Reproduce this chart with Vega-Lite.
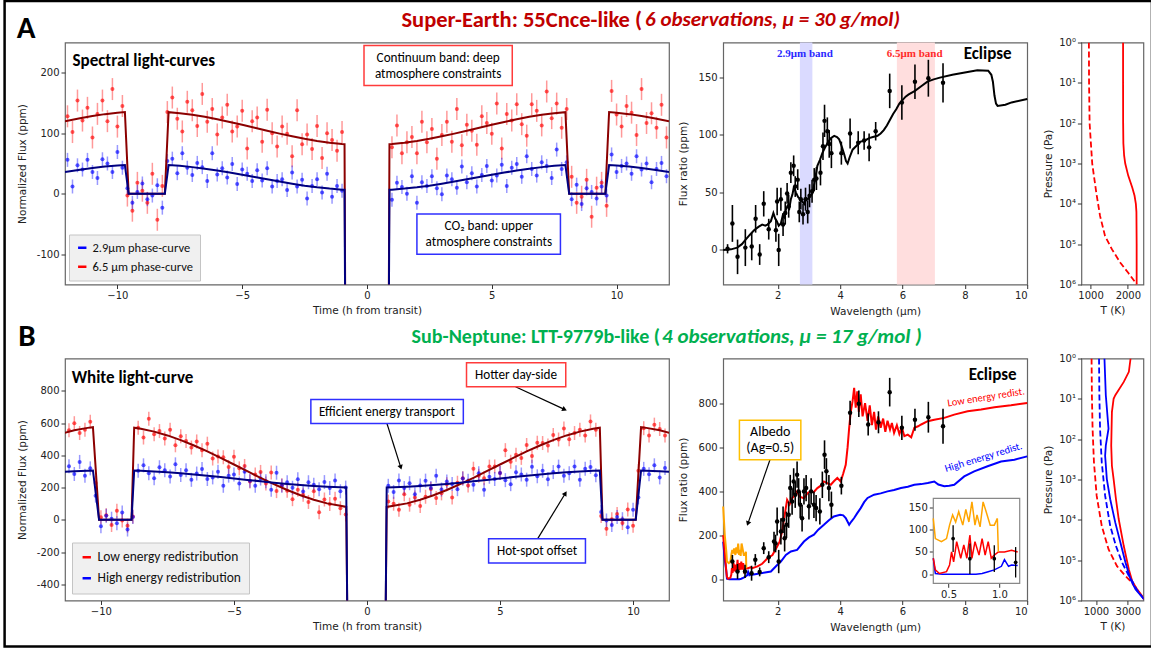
{
"$schema": "https://vega.github.io/schema/vega-lite/v6.json",
"autosize": {"type": "none"},
"padding": {"left": 65, "top": 42.5, "right": 1086, "bottom": 606.5},
"background": "white",
"columns": 3,
"spacing": {"row": 74, "column": 54.2},
"bounds": "flush",
"align": "each",
"resolve": {"scale": {"color": "independent"}, "legend": {"color": "independent"}},
"datasets": {
"lcA": [{"t":-12,"r":128,"b":56},{"t":-11.8,"r":102,"b":12},{"t":-11.6,"r":154,"b":47},{"t":-11.4,"r":121,"b":40},{"t":-11.2,"r":142,"b":56},{"t":-11,"r":93,"b":36},{"t":-10.8,"r":132,"b":26},{"t":-10.6,"r":154,"b":57},{"t":-10.4,"r":120,"b":50},{"t":-10.2,"r":173,"b":36},{"t":-10,"r":111,"b":69},{"t":-9.8,"r":145,"b":43},{"t":-9.6,"r":-3,"b":9},{"t":-9.4,"r":-28,"b":-15},{"t":-9.2,"r":18,"b":3},{"t":-9,"r":5,"b":17},{"t":-8.8,"r":-15,"b":-9},{"t":-8.6,"r":33,"b":-3},{"t":-8.4,"r":-43,"b":14},{"t":-8.2,"r":13,"b":-23},{"t":-8,"r":135,"b":54},{"t":-7.8,"r":159,"b":58},{"t":-7.6,"r":124,"b":34},{"t":-7.4,"r":103,"b":67},{"t":-7.2,"r":152,"b":43},{"t":-7,"r":138,"b":31},{"t":-6.8,"r":112,"b":51},{"t":-6.6,"r":165,"b":44},{"t":-6.4,"r":119,"b":21},{"t":-6.2,"r":140,"b":67},{"t":-6,"r":98,"b":32},{"t":-5.8,"r":126,"b":42},{"t":-5.6,"r":147,"b":27},{"t":-5.4,"r":103,"b":49},{"t":-5.2,"r":111,"b":16},{"t":-5,"r":137,"b":40},{"t":-4.8,"r":75,"b":33},{"t":-4.6,"r":120,"b":21},{"t":-4.4,"r":126,"b":39},{"t":-4.2,"r":86,"b":22},{"t":-4,"r":139,"b":42},{"t":-3.8,"r":100,"b":12},{"t":-3.6,"r":78,"b":21},{"t":-3.4,"r":111,"b":24},{"t":-3.2,"r":99,"b":6},{"t":-3,"r":62,"b":35},{"t":-2.8,"r":138,"b":12},{"t":-2.6,"r":82,"b":23},{"t":-2.4,"r":98,"b":-8},{"t":-2.2,"r":74,"b":13},{"t":-2,"r":112,"b":24},{"t":-1.8,"r":59,"b":2},{"t":-1.6,"r":100,"b":33},{"t":-1.4,"r":89,"b":-5},{"t":-1.2,"r":71,"b":13},{"t":-1,"r":102,"b":5},{"t":1,"r":77,"b":-10},{"t":1.2,"r":113,"b":18},{"t":1.4,"r":67,"b":11},{"t":1.6,"r":85,"b":0},{"t":1.8,"r":94,"b":29},{"t":2,"r":67,"b":-15},{"t":2.2,"r":119,"b":19},{"t":2.4,"r":85,"b":13},{"t":2.6,"r":107,"b":29},{"t":2.8,"r":58,"b":9},{"t":3,"r":97,"b":-1},{"t":3.2,"r":119,"b":30},{"t":3.4,"r":86,"b":24},{"t":3.6,"r":140,"b":10},{"t":3.8,"r":80,"b":45},{"t":4,"r":114,"b":19},{"t":4.2,"r":104,"b":34},{"t":4.4,"r":81,"b":12},{"t":4.6,"r":128,"b":31},{"t":4.8,"r":117,"b":46},{"t":5,"r":99,"b":22},{"t":5.2,"r":149,"b":30},{"t":5.4,"r":75,"b":48},{"t":5.6,"r":132,"b":13},{"t":5.8,"r":121,"b":43},{"t":6,"r":148,"b":49},{"t":6.2,"r":115,"b":28},{"t":6.4,"r":96,"b":62},{"t":6.6,"r":148,"b":41},{"t":6.8,"r":137,"b":30},{"t":7,"r":113,"b":52},{"t":7.2,"r":169,"b":46},{"t":7.4,"r":125,"b":26},{"t":7.6,"r":149,"b":73},{"t":7.8,"r":109,"b":41},{"t":8,"r":140,"b":52},{"t":8.2,"r":28,"b":-9},{"t":8.4,"r":-15,"b":15},{"t":8.6,"r":-5,"b":-17},{"t":8.8,"r":23,"b":9},{"t":9,"r":-38,"b":3},{"t":9.2,"r":10,"b":-8},{"t":9.4,"r":18,"b":12},{"t":9.6,"r":-20,"b":-3},{"t":9.8,"r":170,"b":65},{"t":10,"r":131,"b":36},{"t":10.2,"r":111,"b":46},{"t":10.4,"r":145,"b":50},{"t":10.6,"r":134,"b":33},{"t":10.8,"r":97,"b":62},{"t":11,"r":173,"b":40},{"t":11.2,"r":117,"b":50},{"t":11.4,"r":133,"b":19},{"t":11.6,"r":109,"b":41},{"t":11.8,"r":147,"b":51},{"t":12,"r":93,"b":29}],
"lcAm": [{"t":-12.1,"r":119.7,"b":35.8},{"t":-11.5,"r":124.8,"b":39.7},{"t":-11,"r":128.4,"b":42.5},{"t":-10.5,"r":131.6,"b":44.9},{"t":-10,"r":133.9,"b":46.7},{"t":-9.7,"r":135,"b":47.5},{"t":-9.55,"r":0,"b":0},{"t":-8.1,"r":0,"b":0},{"t":-7.95,"r":134.8,"b":47.4},{"t":-7.5,"r":133.1,"b":46.1},{"t":-7,"r":130.4,"b":44},{"t":-6.5,"r":127.1,"b":41.4},{"t":-6,"r":123.2,"b":38.4},{"t":-5.5,"r":118.7,"b":35},{"t":-5,"r":114,"b":31.4},{"t":-4.5,"r":109.1,"b":27.6},{"t":-4,"r":104.2,"b":23.8},{"t":-3.5,"r":99.4,"b":20.1},{"t":-3,"r":95,"b":16.6},{"t":-2.5,"r":90.8,"b":13.4},{"t":-2,"r":87.3,"b":10.7},{"t":-1.5,"r":84.4,"b":8.5},{"t":-1,"r":82.3,"b":6.8},{"t":-0.9,"r":82,"b":6.6},{"t":-0.85,"r":-400,"b":-400},{"t":0.85,"r":-400,"b":-400},{"t":0.9,"r":82,"b":6.6},{"t":1,"r":82.3,"b":6.8},{"t":1.5,"r":84.4,"b":8.5},{"t":2,"r":87.3,"b":10.7},{"t":2.5,"r":90.8,"b":13.4},{"t":3,"r":95,"b":16.6},{"t":3.5,"r":99.4,"b":20.1},{"t":4,"r":104.2,"b":23.8},{"t":4.5,"r":109.1,"b":27.6},{"t":5,"r":114,"b":31.4},{"t":5.5,"r":118.7,"b":35},{"t":6,"r":123.2,"b":38.4},{"t":6.5,"r":127.1,"b":41.4},{"t":7,"r":130.4,"b":44},{"t":7.5,"r":133.1,"b":46.1},{"t":7.95,"r":134.8,"b":47.4},{"t":8.1,"r":0,"b":0},{"t":9.55,"r":0,"b":0},{"t":9.7,"r":135,"b":47.5},{"t":10,"r":133.9,"b":46.7},{"t":10.5,"r":131.6,"b":44.9},{"t":11,"r":128.4,"b":42.5},{"t":11.5,"r":124.8,"b":39.7},{"t":12.1,"r":119.7,"b":35.8}],
"lcB": [{"t":-11.2,"r":555,"b":332},{"t":-11,"r":599,"b":284},{"t":-10.8,"r":538,"b":359},{"t":-10.6,"r":559,"b":273},{"t":-10.4,"r":608,"b":319},{"t":-10.2,"r":228,"b":150},{"t":-10,"r":16,"b":-39},{"t":-9.8,"r":28,"b":25},{"t":-9.6,"r":-32,"b":7},{"t":-9.4,"r":56,"b":-21},{"t":-9.2,"r":-4,"b":46},{"t":-9,"r":-36,"b":-60},{"t":-8.8,"r":20,"b":18},{"t":-8.6,"r":571,"b":304},{"t":-8.4,"r":510,"b":338},{"t":-8.2,"r":627,"b":288},{"t":-8,"r":531,"b":258},{"t":-7.8,"r":550,"b":326},{"t":-7.6,"r":504,"b":307},{"t":-7.4,"r":558,"b":269},{"t":-7.2,"r":462,"b":344},{"t":-7,"r":518,"b":278},{"t":-6.8,"r":489,"b":307},{"t":-6.6,"r":448,"b":248},{"t":-6.4,"r":486,"b":287},{"t":-6.2,"r":431,"b":315},{"t":-6,"r":472,"b":253},{"t":-5.8,"r":380,"b":263},{"t":-5.6,"r":392,"b":298},{"t":-5.4,"r":388,"b":211},{"t":-5.2,"r":328,"b":274},{"t":-5,"r":391,"b":281},{"t":-4.8,"r":319,"b":225},{"t":-4.6,"r":334,"b":298},{"t":-4.4,"r":237,"b":242},{"t":-4.2,"r":281,"b":211},{"t":-4,"r":297,"b":256},{"t":-3.8,"r":225,"b":239},{"t":-3.6,"r":293,"b":186},{"t":-3.4,"r":178,"b":292},{"t":-3.2,"r":215,"b":212},{"t":-3,"r":181,"b":233},{"t":-2.8,"r":128,"b":199},{"t":-2.6,"r":187,"b":252},{"t":-2.4,"r":155,"b":176},{"t":-2.2,"r":111,"b":233},{"t":-2,"r":177,"b":217},{"t":-1.8,"r":47,"b":190},{"t":-1.6,"r":126,"b":234},{"t":-1.4,"r":98,"b":197},{"t":-1.2,"r":131,"b":244},{"t":-1,"r":72,"b":177},{"t":-0.8,"r":33,"b":200},{"t":0.8,"r":113,"b":211},{"t":1,"r":100,"b":173},{"t":1.2,"r":63,"b":244},{"t":1.4,"r":158,"b":197},{"t":1.6,"r":94,"b":227},{"t":1.8,"r":139,"b":159},{"t":2,"r":85,"b":213},{"t":2.2,"r":143,"b":243},{"t":2.4,"r":191,"b":197},{"t":2.6,"r":135,"b":273},{"t":2.8,"r":164,"b":188},{"t":3,"r":221,"b":237},{"t":3.2,"r":139,"b":222},{"t":3.4,"r":230,"b":190},{"t":3.6,"r":257,"b":256},{"t":3.8,"r":213,"b":242},{"t":4,"r":317,"b":218},{"t":4.2,"r":273,"b":288},{"t":4.4,"r":257,"b":186},{"t":4.6,"r":330,"b":267},{"t":4.8,"r":331,"b":253},{"t":5,"r":291,"b":291},{"t":5.2,"r":432,"b":246},{"t":5.4,"r":360,"b":221},{"t":5.6,"r":404,"b":295},{"t":5.8,"r":384,"b":281},{"t":6,"r":464,"b":249},{"t":6.2,"r":395,"b":329},{"t":6.4,"r":478,"b":270},{"t":6.6,"r":476,"b":304},{"t":6.8,"r":461,"b":251},{"t":7,"r":526,"b":296},{"t":7.2,"r":498,"b":330},{"t":7.4,"r":566,"b":273},{"t":7.6,"r":500,"b":289},{"t":7.8,"r":538,"b":330},{"t":8,"r":559,"b":248},{"t":8.2,"r":523,"b":316},{"t":8.4,"r":610,"b":328},{"t":8.6,"r":559,"b":276},{"t":8.8,"r":24,"b":49},{"t":9,"r":-56,"b":-4},{"t":9.2,"r":4,"b":-32},{"t":9.4,"r":36,"b":18},{"t":9.6,"r":-20,"b":4},{"t":9.8,"r":64,"b":-46},{"t":10,"r":-36,"b":63},{"t":10.2,"r":304,"b":139},{"t":10.4,"r":568,"b":316},{"t":10.6,"r":523,"b":283},{"t":10.8,"r":590,"b":338},{"t":11,"r":563,"b":263},{"t":11.2,"r":523,"b":321}],
"lcBm": [{"t":-11.4,"r":537.1,"b":297.9},{"t":-11,"r":554.7,"b":301.7},{"t":-10.5,"r":570,"b":305},{"t":-10.3,"r":574.3,"b":305.9},{"t":-10.07,"r":0,"b":0},{"t":-8.85,"r":0,"b":0},{"t":-8.75,"r":571,"b":305.2},{"t":-8.5,"r":564.9,"b":303.9},{"t":-8,"r":546.8,"b":300},{"t":-7.5,"r":523.2,"b":294.9},{"t":-7,"r":494.2,"b":288.7},{"t":-6.5,"r":460.8,"b":281.6},{"t":-6,"r":423.9,"b":273.7},{"t":-5.5,"r":384.3,"b":265.2},{"t":-5,"r":343,"b":256.3},{"t":-4.5,"r":301.6,"b":247.5},{"t":-4,"r":260.6,"b":238.7},{"t":-3.5,"r":221.7,"b":230.3},{"t":-3,"r":185.1,"b":222.5},{"t":-2.5,"r":152.5,"b":215.5},{"t":-2,"r":124.8,"b":209.6},{"t":-1.5,"r":102.1,"b":204.7},{"t":-1,"r":87.6,"b":201.2},{"t":-0.78,"r":80,"b":200},{"t":-0.74,"r":-600,"b":-600},{"t":0.7,"r":-600,"b":-600},{"t":0.74,"r":80,"b":200},{"t":1,"r":87.6,"b":201.2},{"t":1.5,"r":102.1,"b":204.7},{"t":2,"r":124.8,"b":209.6},{"t":2.5,"r":152.5,"b":215.5},{"t":3,"r":185.1,"b":222.5},{"t":3.5,"r":221.7,"b":230.3},{"t":4,"r":260.6,"b":238.7},{"t":4.5,"r":301.6,"b":247.5},{"t":5,"r":343,"b":256.3},{"t":5.5,"r":384.3,"b":265.2},{"t":6,"r":423.9,"b":273.7},{"t":6.5,"r":460.8,"b":281.6},{"t":7,"r":494.2,"b":288.7},{"t":7.5,"r":523.2,"b":294.9},{"t":8,"r":546.8,"b":300},{"t":8.5,"r":564.9,"b":303.9},{"t":8.75,"r":571,"b":305.2},{"t":8.85,"r":0,"b":0},{"t":10.1,"r":0,"b":0},{"t":10.3,"r":574.3,"b":305.9},{"t":10.5,"r":570,"b":305},{"t":11,"r":554.7,"b":301.7},{"t":11.4,"r":537.1,"b":297.9}],
"spA": [{"l":0.39,"f":1,"lo":-3,"hi":5},{"l":0.545,"f":23,"lo":7,"hi":39},{"l":0.71,"f":-6,"lo":-21,"hi":9},{"l":0.96,"f":2,"lo":-14,"hi":18},{"l":1.165,"f":3,"lo":-9,"hi":15},{"l":1.29,"f":27,"lo":15,"hi":39},{"l":1.42,"f":-4,"lo":-13,"hi":5},{"l":1.55,"f":40,"lo":29,"hi":51},{"l":1.71,"f":18,"lo":9,"hi":27},{"l":1.94,"f":17,"lo":7,"hi":27},{"l":1.98,"f":42,"lo":30,"hi":54},{"l":2.03,"f":0,"lo":-14,"hi":14},{"l":2.1,"f":44,"lo":34,"hi":54},{"l":2.17,"f":22,"lo":12,"hi":32},{"l":2.24,"f":32,"lo":22,"hi":42},{"l":2.3,"f":49,"lo":40,"hi":58},{"l":2.35,"f":38,"lo":28,"hi":48},{"l":2.42,"f":67,"lo":58,"hi":76},{"l":2.51,"f":73,"lo":64,"hi":82},{"l":2.56,"f":55,"lo":46,"hi":64},{"l":2.64,"f":61,"lo":52,"hi":70},{"l":2.69,"f":33,"lo":24,"hi":42},{"l":2.74,"f":44,"lo":35,"hi":53},{"l":2.81,"f":31,"lo":22,"hi":40},{"l":2.89,"f":44,"lo":34,"hi":54},{"l":2.96,"f":33,"lo":23,"hi":43},{"l":3.02,"f":47,"lo":37,"hi":57},{"l":3.1,"f":51,"lo":41,"hi":61},{"l":3.17,"f":61,"lo":51,"hi":71},{"l":3.24,"f":62,"lo":52,"hi":72},{"l":3.37,"f":67,"lo":56,"hi":78},{"l":3.45,"f":90,"lo":78,"hi":102},{"l":3.5,"f":112,"lo":98,"hi":126},{"l":3.59,"f":103,"lo":91,"hi":115},{"l":3.65,"f":92,"lo":80,"hi":104},{"l":3.72,"f":84,"lo":71,"hi":97},{"l":4.04,"f":84,"lo":74,"hi":94},{"l":4.32,"f":101,"lo":88,"hi":114},{"l":4.58,"f":93,"lo":83,"hi":103},{"l":4.77,"f":95,"lo":87,"hi":103},{"l":4.93,"f":89,"lo":77,"hi":101},{"l":5.14,"f":103,"lo":95,"hi":111},{"l":5.59,"f":138,"lo":123,"hi":153},{"l":5.98,"f":128,"lo":113,"hi":143},{"l":6.4,"f":146,"lo":131,"hi":161},{"l":6.83,"f":149,"lo":133,"hi":165},{"l":7.3,"f":145,"lo":128,"hi":162}],
"spAm": [{"l":0.25,"f":0},{"l":0.5,"f":0.5},{"l":0.7,"f":2},{"l":0.85,"f":5},{"l":0.97,"f":9},{"l":1.1,"f":13},{"l":1.24,"f":17},{"l":1.38,"f":20},{"l":1.5,"f":22},{"l":1.6,"f":21},{"l":1.67,"f":22},{"l":1.78,"f":25},{"l":1.86,"f":32},{"l":1.92,"f":27},{"l":1.97,"f":25},{"l":2.03,"f":21},{"l":2.1,"f":23},{"l":2.16,"f":30},{"l":2.22,"f":28},{"l":2.26,"f":35},{"l":2.32,"f":38},{"l":2.37,"f":36},{"l":2.42,"f":44},{"l":2.47,"f":48},{"l":2.52,"f":55},{"l":2.58,"f":50},{"l":2.65,"f":46},{"l":2.72,"f":44},{"l":2.79,"f":42},{"l":2.85,"f":40},{"l":2.91,"f":45},{"l":2.97,"f":44},{"l":3.04,"f":47},{"l":3.11,"f":49},{"l":3.19,"f":60},{"l":3.27,"f":73},{"l":3.35,"f":78},{"l":3.43,"f":84},{"l":3.5,"f":88},{"l":3.6,"f":93},{"l":3.7,"f":97},{"l":3.81,"f":99},{"l":3.9,"f":98},{"l":3.97,"f":96},{"l":4.05,"f":90},{"l":4.13,"f":83},{"l":4.19,"f":77},{"l":4.24,"f":75},{"l":4.3,"f":80},{"l":4.4,"f":87},{"l":4.55,"f":91},{"l":4.66,"f":94},{"l":4.8,"f":95},{"l":4.93,"f":97},{"l":5.05,"f":98},{"l":5.2,"f":99},{"l":5.3,"f":101},{"l":5.4,"f":104},{"l":5.5,"f":108},{"l":5.6,"f":113},{"l":5.7,"f":118},{"l":5.8,"f":122},{"l":5.9,"f":127},{"l":6,"f":130},{"l":6.1,"f":133},{"l":6.2,"f":135},{"l":6.4,"f":138},{"l":6.6,"f":142},{"l":6.8,"f":146},{"l":7,"f":148},{"l":7.2,"f":149.5},{"l":7.6,"f":152},{"l":8,"f":154},{"l":8.4,"f":156},{"l":8.75,"f":155.5},{"l":8.85,"f":152},{"l":8.9,"f":146},{"l":8.95,"f":134},{"l":9,"f":127},{"l":9.05,"f":125},{"l":9.3,"f":126},{"l":9.5,"f":128},{"l":10,"f":131}],
"spB": [{"l":0.545,"f":80,"lo":50,"hi":110},{"l":0.71,"f":35,"lo":1,"hi":69},{"l":0.95,"f":35,"lo":5,"hi":65},{"l":1.16,"f":27,"lo":-7,"hi":61},{"l":1.28,"f":88,"lo":62,"hi":114},{"l":1.42,"f":33,"lo":13,"hi":53},{"l":1.55,"f":141,"lo":114,"hi":168},{"l":1.71,"f":100,"lo":73,"hi":127},{"l":1.88,"f":171,"lo":126,"hi":216},{"l":1.93,"f":162,"lo":122,"hi":202},{"l":1.98,"f":262,"lo":198,"hi":326},{"l":2.03,"f":80,"lo":27,"hi":133},{"l":2.1,"f":217,"lo":157,"hi":277},{"l":2.17,"f":270,"lo":210,"hi":330},{"l":2.22,"f":186,"lo":126,"hi":246},{"l":2.28,"f":247,"lo":187,"hi":307},{"l":2.35,"f":293,"lo":233,"hi":353},{"l":2.4,"f":414,"lo":354,"hi":474},{"l":2.46,"f":353,"lo":293,"hi":413},{"l":2.51,"f":444,"lo":384,"hi":504},{"l":2.56,"f":384,"lo":324,"hi":444},{"l":2.62,"f":475,"lo":415,"hi":535},{"l":2.67,"f":399,"lo":339,"hi":459},{"l":2.72,"f":338,"lo":278,"hi":398},{"l":2.78,"f":277,"lo":217,"hi":337},{"l":2.84,"f":399,"lo":339,"hi":459},{"l":2.91,"f":414,"lo":354,"hi":474},{"l":3,"f":331,"lo":271,"hi":391},{"l":3.07,"f":399,"lo":339,"hi":459},{"l":3.16,"f":338,"lo":278,"hi":398},{"l":3.23,"f":323,"lo":263,"hi":383},{"l":3.35,"f":308,"lo":248,"hi":368},{"l":3.43,"f":429,"lo":369,"hi":489},{"l":3.5,"f":566,"lo":501,"hi":631},{"l":3.56,"f":490,"lo":430,"hi":550},{"l":3.64,"f":414,"lo":354,"hi":474},{"l":3.72,"f":338,"lo":278,"hi":398},{"l":4.04,"f":425,"lo":385,"hi":465},{"l":4.32,"f":756,"lo":701,"hi":811},{"l":4.6,"f":797,"lo":737,"hi":857},{"l":4.9,"f":703,"lo":653,"hi":753},{"l":5.23,"f":713,"lo":663,"hi":763},{"l":5.59,"f":850,"lo":785,"hi":915},{"l":5.98,"f":688,"lo":633,"hi":743},{"l":6.4,"f":725,"lo":675,"hi":775},{"l":6.83,"f":736,"lo":666,"hi":806},{"l":7.3,"f":695,"lo":615,"hi":775}],
"bR": [{"l":0.25,"f":200},{"l":0.3,"f":120},{"l":0.35,"f":36},{"l":0.37,"f":10},{"l":0.41,"f":2},{"l":0.48,"f":6},{"l":0.51,"f":21},{"l":0.53,"f":50},{"l":0.55,"f":28},{"l":0.58,"f":73},{"l":0.62,"f":36},{"l":0.65,"f":66},{"l":0.68,"f":36},{"l":0.71,"f":88},{"l":0.73,"f":36},{"l":0.76,"f":73},{"l":0.8,"f":43},{"l":0.83,"f":80},{"l":0.86,"f":43},{"l":0.89,"f":73},{"l":0.92,"f":36},{"l":0.95,"f":43},{"l":0.99,"f":50},{"l":1.05,"f":50},{"l":1.12,"f":54},{"l":1.18,"f":50},{"l":1.35,"f":58},{"l":1.5,"f":70},{"l":1.67,"f":95},{"l":1.83,"f":110},{"l":1.98,"f":148},{"l":2.06,"f":170},{"l":2.14,"f":217},{"l":2.22,"f":290},{"l":2.3,"f":361},{"l":2.38,"f":340},{"l":2.46,"f":368},{"l":2.54,"f":380},{"l":2.62,"f":399},{"l":2.7,"f":375},{"l":2.84,"f":368},{"l":2.95,"f":390},{"l":3.05,"f":399},{"l":3.15,"f":395},{"l":3.27,"f":414},{"l":3.38,"f":425},{"l":3.48,"f":444},{"l":3.6,"f":435},{"l":3.7,"f":429},{"l":3.8,"f":445},{"l":3.91,"f":460},{"l":4.02,"f":444},{"l":4.1,"f":480},{"l":4.18,"f":520},{"l":4.24,"f":600},{"l":4.29,"f":688},{"l":4.34,"f":760},{"l":4.4,"f":809},{"l":4.45,"f":870},{"l":4.5,"f":780},{"l":4.55,"f":854},{"l":4.6,"f":760},{"l":4.66,"f":840},{"l":4.72,"f":740},{"l":4.8,"f":800},{"l":4.88,"f":720},{"l":4.95,"f":790},{"l":5.02,"f":700},{"l":5.09,"f":760},{"l":5.15,"f":680},{"l":5.22,"f":740},{"l":5.3,"f":688},{"l":5.38,"f":730},{"l":5.45,"f":670},{"l":5.52,"f":720},{"l":5.6,"f":680},{"l":5.66,"f":710},{"l":5.73,"f":665},{"l":5.82,"f":700},{"l":5.9,"f":660},{"l":5.98,"f":690},{"l":6.06,"f":650},{"l":6.17,"f":657},{"l":6.28,"f":645},{"l":6.38,"f":688},{"l":6.5,"f":695},{"l":6.6,"f":703},{"l":6.81,"f":718},{"l":7.02,"f":725},{"l":7.34,"f":733},{"l":7.66,"f":748},{"l":8.09,"f":763},{"l":8.52,"f":771},{"l":8.95,"f":781},{"l":9.48,"f":790},{"l":10,"f":801}],
"bB": [{"l":0.25,"f":170},{"l":0.3,"f":90},{"l":0.35,"f":36},{"l":0.37,"f":2},{"l":0.44,"f":0},{"l":0.6,"f":0},{"l":0.77,"f":0},{"l":0.83,"f":2},{"l":0.89,"f":6},{"l":0.95,"f":10},{"l":1.02,"f":18},{"l":1.05,"f":33},{"l":1.09,"f":18},{"l":1.12,"f":21},{"l":1.18,"f":20},{"l":1.46,"f":27},{"l":1.78,"f":35},{"l":1.95,"f":60},{"l":2.1,"f":80},{"l":2.26,"f":110},{"l":2.42,"f":126},{"l":2.62,"f":133},{"l":2.84,"f":171},{"l":3,"f":190},{"l":3.16,"f":202},{"l":3.3,"f":225},{"l":3.48,"f":247},{"l":3.64,"f":268},{"l":3.8,"f":285},{"l":4,"f":293},{"l":4.1,"f":290},{"l":4.18,"f":278},{"l":4.29,"f":247},{"l":4.36,"f":262},{"l":4.45,"f":278},{"l":4.55,"f":300},{"l":4.66,"f":323},{"l":4.77,"f":350},{"l":4.88,"f":369},{"l":5.09,"f":384},{"l":5.3,"f":390},{"l":5.52,"f":399},{"l":5.73,"f":405},{"l":5.95,"f":414},{"l":6.17,"f":420},{"l":6.38,"f":429},{"l":6.6,"f":432},{"l":6.81,"f":437},{"l":7.02,"f":444},{"l":7.15,"f":430},{"l":7.34,"f":422},{"l":7.5,"f":425},{"l":7.66,"f":429},{"l":7.98,"f":467},{"l":8.3,"f":490},{"l":8.73,"f":513},{"l":9.16,"f":535},{"l":9.59,"f":543},{"l":10,"f":558}],
"bO": [{"l":0.25,"f":330},{"l":0.3,"f":200},{"l":0.35,"f":125},{"l":0.37,"f":80},{"l":0.43,"f":73},{"l":0.48,"f":80},{"l":0.51,"f":110},{"l":0.54,"f":133},{"l":0.57,"f":117},{"l":0.6,"f":140},{"l":0.64,"f":110},{"l":0.67,"f":145},{"l":0.7,"f":117},{"l":0.73,"f":162},{"l":0.76,"f":110},{"l":0.78,"f":133},{"l":0.81,"f":106},{"l":0.84,"f":162},{"l":0.87,"f":140},{"l":0.91,"f":110},{"l":0.95,"f":110},{"l":0.98,"f":125},{"l":0.99,"f":50}],
"ptAs": [{"p":1,"T":1872},{"p":10,"T":1872},{"p":100,"T":1874},{"p":316.2,"T":1880},{"p":631,"T":1900},{"p":1000,"T":1930},{"p":1995,"T":2010},{"p":3981,"T":2120},{"p":6310,"T":2180},{"p":10000,"T":2215},{"p":15849,"T":2230},{"p":100000,"T":2236},{"p":1000000,"T":2236}],
"ptAd": [{"p":1,"T":956},{"p":10,"T":960},{"p":100,"T":975},{"p":1000,"T":1045},{"p":5012,"T":1150},{"p":19953,"T":1255},{"p":63096,"T":1390},{"p":134896,"T":1575},{"p":288403,"T":1800},{"p":512861,"T":2010},{"p":912011,"T":2210},{"p":1000000,"T":2236}],
"ptBrs": [{"p":1,"T":3173},{"p":2.138,"T":3066},{"p":3.802,"T":2747},{"p":8.128,"T":2214},{"p":10,"T":2108},{"p":21.38,"T":2001},{"p":144.5,"T":1958},{"p":457.1,"T":2001},{"p":977.2,"T":2108},{"p":3090,"T":2257},{"p":9550,"T":2427},{"p":44668,"T":2747},{"p":169824,"T":3066},{"p":331131,"T":3279},{"p":537032,"T":3599},{"p":851138,"T":3980},{"p":1000000,"T":4150}],
"ptBrd": [{"p":1,"T":723},{"p":8.128,"T":744},{"p":54.95,"T":787},{"p":371.5,"T":872},{"p":2512,"T":1043},{"p":14125,"T":1362},{"p":53703,"T":1788},{"p":141254,"T":2321},{"p":245471,"T":2853},{"p":331131,"T":3173},{"p":537032,"T":3580},{"p":891251,"T":3980},{"p":1000000,"T":4100}],
"ptBbs": [{"p":1,"T":1533},{"p":8.128,"T":1618},{"p":54.95,"T":1788},{"p":144.5,"T":1618},{"p":257,"T":1575},{"p":977.2,"T":1682},{"p":3090,"T":1895},{"p":11749,"T":2214},{"p":36308,"T":2534},{"p":114815,"T":2853},{"p":301995,"T":3173},{"p":537032,"T":3492},{"p":891251,"T":3980},{"p":1000000,"T":4080}],
"ptBbd": [{"p":1,"T":1192},{"p":8.128,"T":1213},{"p":54.95,"T":1256},{"p":371.5,"T":1362},{"p":2512,"T":1575},{"p":14125,"T":1895},{"p":44668,"T":2257},{"p":114815,"T":2640},{"p":245471,"T":3066},{"p":331131,"T":3279},{"p":537032,"T":3560},{"p":891251,"T":3980},{"p":1000000,"T":4080}]
},
"concat": [
{
"width": 604, "height": 242,
"layer": [
{"data": {"values": [{}]}, "mark": {"type": "rect", "fill": null, "fillOpacity": 0, "stroke": "black", "strokeWidth": 2.5},
 "encoding": {"x": {"datum": -14.52}, "x2": {"datum": 31.45}, "y": {"datum": 318.6}, "y2": {"datum": -748.4}}},
{"data": {"name": "lcA"}, "mark": {"type": "tick", "orient": "vertical", "size": 22, "thickness": 1.5, "color": "#ff0000", "opacity": 0.4},
 "encoding": {"x": {"field": "t", "type": "quantitative", "scale": {"domain": [-12.1, 12.1], "nice": false, "zero": false}, "axis": {"values": [-10, -5, 0, 5, 10], "title": "Time (h from transit)", "titlePadding": 5}},
  "y": {"field": "r", "type": "quantitative", "scale": {"domain": [-150, 250], "nice": false, "zero": false}, "axis": {"values": [-100, 0, 100, 200], "format": "d", "labelExpr": "replace(datum.label, '−', '-')", "title": "Normalized Flux (ppm)", "titlePadding": 9}}}},
{"data": {"name": "lcA"}, "mark": {"type": "tick", "orient": "vertical", "size": 14, "thickness": 1.5, "color": "#0000ff", "opacity": 0.4},
 "encoding": {"x": {"field": "t", "type": "quantitative"}, "y": {"field": "b", "type": "quantitative"}}},
{"data": {"name": "lcA"}, "mark": {"type": "circle", "size": 16, "color": "#ff0000", "opacity": 0.65},
 "encoding": {"x": {"field": "t", "type": "quantitative"}, "y": {"field": "r", "type": "quantitative"}}},
{"data": {"name": "lcA"}, "mark": {"type": "circle", "size": 16, "color": "#0000ff", "opacity": 0.65},
 "encoding": {"x": {"field": "t", "type": "quantitative"}, "y": {"field": "b", "type": "quantitative"}}},
{"data": {"name": "lcAm"}, "mark": {"type": "line", "color": "#8b0000", "strokeWidth": 2, "clip": true},
 "encoding": {"x": {"field": "t", "type": "quantitative"}, "y": {"field": "r", "type": "quantitative"}}},
{"data": {"name": "lcAm"}, "mark": {"type": "line", "color": "#000080", "strokeWidth": 2, "clip": true},
 "encoding": {"x": {"field": "t", "type": "quantitative"}, "y": {"field": "b", "type": "quantitative"}}},
{"data": {"name": "lcAm"}, "transform": [{"fold": ["b", "r"], "as": ["k", "v"]}, {"filter": "false"}],
 "mark": {"type": "line", "strokeWidth": 2.5},
 "encoding": {"x": {"field": "t", "type": "quantitative"}, "y": {"field": "v", "type": "quantitative"},
  "color": {"field": "k", "type": "nominal", "scale": {"domain": ["b", "r"], "range": ["#0000ff", "#ff0000"]},
   "legend": {"title": null, "orient": "bottom-left", "offset": 4, "padding": 7, "fillColor": "#f0f0f0", "strokeColor": "#c4c4c4", "labelFont": "Carlito, Liberation Sans, sans-serif", "labelFontSize": 12.5, "labelColor": "#111", "symbolType": "stroke", "symbolSize": 70, "symbolStrokeWidth": 2.5, "rowPadding": 6, "labelExpr": "datum.value == 'b' ? '2.9μm phase-curve' : '6.5 μm phase-curve'"}}}},
{"data": {"values": [{}]}, "mark": {"type": "text", "text": "Spectral light-curves", "align": "left", "baseline": "middle", "fontSize": 17, "fontWeight": "bold", "font": "Carlito, Liberation Sans, sans-serif"},
 "encoding": {"x": {"datum": -11.8}, "y": {"datum": 220}}},
{"data": {"values": [{}]}, "mark": {"type": "rect", "fill": "white", "stroke": "#ff3b3b", "strokeWidth": 1.5},
 "encoding": {"x": {"datum": -0.12}, "x2": {"datum": 5.82}, "y": {"datum": 179}, "y2": {"datum": 245}}},
{"data": {"values": [{}]}, "mark": {"type": "text", "text": ["Continuum band: deep", "atmosphere constraints"], "align": "center", "baseline": "middle", "lineHeight": 16, "fontSize": 13.2, "font": "Carlito, Liberation Sans, sans-serif"},
 "encoding": {"x": {"datum": 2.85}, "y": {"datum": 225}}},
{"data": {"values": [{}]}, "mark": {"type": "rect", "fill": "white", "stroke": "#2f2fff", "strokeWidth": 1.5},
 "encoding": {"x": {"datum": 2.0}, "x2": {"datum": 7.75}, "y": {"datum": -100}, "y2": {"datum": -33.6}}},
{"data": {"values": [{}]}, "mark": {"type": "text", "text": ["CO₂ band: upper", "atmosphere constraints"], "align": "center", "baseline": "middle", "lineHeight": 16, "fontSize": 13.2, "font": "Carlito, Liberation Sans, sans-serif"},
 "encoding": {"x": {"datum": 4.88}, "y": {"datum": -54}}},
{"data": {"values": [{}]}, "mark": {"type": "text", "text": "A", "align": "center", "baseline": "middle", "fontSize": 31, "fontWeight": "bold", "font": "Carlito, Liberation Sans, sans-serif"},
 "encoding": {"x": {"datum": -13.66}, "y": {"datum": 272}}},
{"data": {"values": [{}]}, "mark": {"type": "text", "text": "Super-Earth: 55Cnce-like (", "align": "right", "baseline": "middle", "fontSize": 22.5, "fontWeight": "bold", "color": "#c00000", "font": "Carlito, Liberation Sans, sans-serif"},
 "encoding": {"x": {"datum": 11.02}, "y": {"datum": 288}}},
{"data": {"values": [{}]}, "mark": {"type": "text", "text": "6 observations, μ = 30 g/mol)", "align": "left", "baseline": "middle", "fontSize": 21, "fontWeight": "bold", "fontStyle": "italic", "color": "#c00000", "font": "Carlito, Liberation Sans, sans-serif"},
 "encoding": {"x": {"datum": 11.14}, "y": {"datum": 288}}}
]
},
{
"width": 304, "height": 242,
"layer": [
{"data": {"values": [{}]}, "mark": {"type": "rect", "color": "#dadaff"},
 "encoding": {"x": {"datum": 2.71, "type": "quantitative", "scale": {"domain": [0.25, 10], "nice": false, "zero": false}, "axis": {"values": [2, 4, 6, 8, 10], "title": "Wavelength (μm)", "titlePadding": 6}}, "x2": {"datum": 3.11}}},
{"data": {"values": [{}]}, "mark": {"type": "rect", "color": "#ffdede"},
 "encoding": {"x": {"datum": 5.82, "type": "quantitative"}, "x2": {"datum": 7.04}}},
{"data": {"name": "spAm"}, "mark": {"type": "line", "color": "black", "strokeWidth": 2},
 "encoding": {"x": {"field": "l", "type": "quantitative"}, "y": {"field": "f", "type": "quantitative", "scale": {"domain": [-30, 180], "nice": false, "zero": false}, "axis": {"values": [0, 50, 100, 150], "title": "Flux ratio (ppm)", "titlePadding": 10}}}},
{"data": {"name": "spA"}, "mark": {"type": "rule", "color": "black", "strokeWidth": 1.6},
 "encoding": {"x": {"field": "l", "type": "quantitative"}, "y": {"field": "lo", "type": "quantitative"}, "y2": {"field": "hi"}}},
{"data": {"name": "spA"}, "mark": {"type": "circle", "color": "black", "size": 20, "opacity": 1},
 "encoding": {"x": {"field": "l", "type": "quantitative"}, "y": {"field": "f", "type": "quantitative"}}},
{"data": {"values": [{}]}, "mark": {"type": "text", "text": "2.9μm band", "align": "center", "baseline": "middle", "fontSize": 11, "fontWeight": "bold", "color": "#2a2aff", "font": "Liberation Serif, DejaVu Serif, serif"},
 "encoding": {"x": {"datum": 2.87}, "y": {"datum": 170}}},
{"data": {"values": [{}]}, "mark": {"type": "text", "text": "6.5μm band", "align": "center", "baseline": "middle", "fontSize": 11, "fontWeight": "bold", "color": "#ff2a2a", "font": "Liberation Serif, DejaVu Serif, serif"},
 "encoding": {"x": {"datum": 6.39}, "y": {"datum": 170}}},
{"data": {"values": [{}]}, "mark": {"type": "text", "text": "Eclipse", "align": "right", "baseline": "middle", "fontSize": 17, "fontWeight": "bold", "font": "Carlito, Liberation Sans, sans-serif"},
 "encoding": {"x": {"datum": 9.5}, "y": {"datum": 170}}}
]
},
{
"width": 62, "height": 242,
"layer": [
{"data": {"name": "ptAs"}, "mark": {"type": "line", "color": "#ff0000", "strokeWidth": 1.8, "clip": true},
 "encoding": {"x": {"field": "T", "type": "quantitative", "scale": {"domain": [755, 2417], "nice": false, "zero": false}, "axis": {"values": [1000, 2000], "format": "d", "title": "T (K)", "titlePadding": 5}},
  "y": {"field": "p", "type": "quantitative", "scale": {"type": "log", "domain": [1, 1000000], "reverse": true, "nice": false}, "axis": {"values": [1, 10, 100, 1000, 10000, 100000, 1000000], "labelExpr": "'10' + ['⁰','¹','²','³','⁴','⁵','⁶'][round(log(datum.value)/LN10)]", "title": "Pressure (Pa)", "titlePadding": 5}},
  "order": {"field": "p", "type": "quantitative"}}},
{"data": {"name": "ptAd"}, "mark": {"type": "line", "color": "#ff0000", "strokeWidth": 1.8, "strokeDash": [6, 3], "clip": true},
 "encoding": {"x": {"field": "T", "type": "quantitative"}, "y": {"field": "p", "type": "quantitative"}, "order": {"field": "p", "type": "quantitative"}}}
]
},
{
"width": 604, "height": 242,
"layer": [
{"data": {"name": "lcB"}, "mark": {"type": "tick", "orient": "vertical", "size": 14, "thickness": 1.5, "color": "#ff0000", "opacity": 0.4},
 "encoding": {"x": {"field": "t", "type": "quantitative", "scale": {"domain": [-11.35, 11.35], "nice": false, "zero": false}, "axis": {"values": [-10, -5, 0, 5, 10], "title": "Time (h from transit)", "titlePadding": 5}},
  "y": {"field": "r", "type": "quantitative", "scale": {"domain": [-500, 1000], "nice": false, "zero": false}, "axis": {"values": [-400, -200, 0, 200, 400, 600, 800], "format": "d", "labelExpr": "replace(datum.label, '−', '-')", "title": "Normalized Flux (ppm)", "titlePadding": 9}}}},
{"data": {"name": "lcB"}, "mark": {"type": "tick", "orient": "vertical", "size": 14, "thickness": 1.5, "color": "#0000ff", "opacity": 0.4},
 "encoding": {"x": {"field": "t", "type": "quantitative"}, "y": {"field": "b", "type": "quantitative"}}},
{"data": {"name": "lcB"}, "mark": {"type": "circle", "size": 16, "color": "#ff0000", "opacity": 0.65},
 "encoding": {"x": {"field": "t", "type": "quantitative"}, "y": {"field": "r", "type": "quantitative"}}},
{"data": {"name": "lcB"}, "mark": {"type": "circle", "size": 16, "color": "#0000ff", "opacity": 0.65},
 "encoding": {"x": {"field": "t", "type": "quantitative"}, "y": {"field": "b", "type": "quantitative"}}},
{"data": {"name": "lcBm"}, "mark": {"type": "line", "color": "#8b0000", "strokeWidth": 2, "clip": true},
 "encoding": {"x": {"field": "t", "type": "quantitative"}, "y": {"field": "r", "type": "quantitative"}}},
{"data": {"name": "lcBm"}, "mark": {"type": "line", "color": "#000080", "strokeWidth": 2, "clip": true},
 "encoding": {"x": {"field": "t", "type": "quantitative"}, "y": {"field": "b", "type": "quantitative"}}},
{"data": {"name": "lcBm"}, "transform": [{"fold": ["r", "b"], "as": ["k", "v"]}, {"filter": "false"}],
 "mark": {"type": "line", "strokeWidth": 2.5},
 "encoding": {"x": {"field": "t", "type": "quantitative"}, "y": {"field": "v", "type": "quantitative"},
  "color": {"field": "k", "type": "nominal", "scale": {"domain": ["r", "b"], "range": ["#ff0000", "#0000ff"]},
   "legend": {"title": null, "orient": "bottom-left", "offset": 7, "padding": 8, "fillColor": "#f0f0f0", "strokeColor": "#c4c4c4", "labelFont": "Carlito, Liberation Sans, sans-serif", "labelFontSize": 13.5, "labelColor": "#111", "symbolType": "stroke", "symbolSize": 70, "symbolStrokeWidth": 2.5, "rowPadding": 6, "labelExpr": "datum.value == 'r' ? 'Low energy redistribution' : 'High energy redistribution'"}}}},
{"data": {"values": [{}]}, "mark": {"type": "text", "text": "White light-curve", "align": "left", "baseline": "middle", "fontSize": 17, "fontWeight": "bold", "font": "Carlito, Liberation Sans, sans-serif"},
 "encoding": {"x": {"datum": -11.1}, "y": {"datum": 880}}},
{"data": {"values": [{}]}, "mark": {"type": "rule", "color": "black", "strokeWidth": 1.2},
 "encoding": {"x": {"datum": 0.75}, "y": {"datum": 597}, "x2": {"datum": 1.26}, "y2": {"datum": 330}}},
{"data": {"values": [{}]}, "mark": {"type": "point", "shape": "triangle", "filled": true, "color": "black", "size": 30, "angle": 163, "opacity": 1},
 "encoding": {"x": {"datum": 1.26}, "y": {"datum": 330}}},
{"data": {"values": [{}]}, "mark": {"type": "rule", "color": "black", "strokeWidth": 1.2},
 "encoding": {"x": {"datum": 5.58}, "y": {"datum": 825}, "x2": {"datum": 7.4}, "y2": {"datum": 686}}},
{"data": {"values": [{}]}, "mark": {"type": "point", "shape": "triangle", "filled": true, "color": "black", "size": 30, "angle": 115, "opacity": 1},
 "encoding": {"x": {"datum": 7.4}, "y": {"datum": 686}}},
{"data": {"values": [{}]}, "mark": {"type": "rule", "color": "black", "strokeWidth": 1.2},
 "encoding": {"x": {"datum": 6.41}, "y": {"datum": -118}, "x2": {"datum": 7.44}, "y2": {"datum": 160}}},
{"data": {"values": [{}]}, "mark": {"type": "point", "shape": "triangle", "filled": true, "color": "black", "size": 30, "angle": 32, "opacity": 1},
 "encoding": {"x": {"datum": 7.44}, "y": {"datum": 160}}},
{"data": {"values": [{}]}, "mark": {"type": "rect", "fill": "white", "stroke": "#2f2fff", "strokeWidth": 1.5},
 "encoding": {"x": {"datum": -2.11}, "x2": {"datum": 3.62}, "y": {"datum": 597}, "y2": {"datum": 746}}},
{"data": {"values": [{}]}, "mark": {"type": "text", "text": "Efficient energy transport", "align": "center", "baseline": "middle", "fontSize": 13.2, "font": "Carlito, Liberation Sans, sans-serif"},
 "encoding": {"x": {"datum": 0.75}, "y": {"datum": 671}}},
{"data": {"values": [{}]}, "mark": {"type": "rect", "fill": "white", "stroke": "#ff3b3b", "strokeWidth": 1.5},
 "encoding": {"x": {"datum": 3.74}, "x2": {"datum": 7.47}, "y": {"datum": 825}, "y2": {"datum": 973}}},
{"data": {"values": [{}]}, "mark": {"type": "text", "text": "Hotter day-side", "align": "center", "baseline": "middle", "fontSize": 13.2, "font": "Carlito, Liberation Sans, sans-serif"},
 "encoding": {"x": {"datum": 5.6}, "y": {"datum": 899}}},
{"data": {"values": [{}]}, "mark": {"type": "rect", "fill": "white", "stroke": "#2f2fff", "strokeWidth": 1.5},
 "encoding": {"x": {"datum": 4.57}, "x2": {"datum": 8.21}, "y": {"datum": -267}, "y2": {"datum": -118}}},
{"data": {"values": [{}]}, "mark": {"type": "text", "text": "Hot-spot offset", "align": "center", "baseline": "middle", "fontSize": 13.2, "font": "Carlito, Liberation Sans, sans-serif"},
 "encoding": {"x": {"datum": 6.39}, "y": {"datum": -192}}},
{"data": {"values": [{}]}, "mark": {"type": "text", "text": "B", "align": "center", "baseline": "middle", "fontSize": 31, "fontWeight": "bold", "font": "Carlito, Liberation Sans, sans-serif"},
 "encoding": {"x": {"datum": -12.78}, "y": {"datum": 1133}}},
{"data": {"values": [{}]}, "mark": {"type": "text", "text": "Sub-Neptune: LTT-9779b-like (", "align": "right", "baseline": "middle", "fontSize": 20, "fontWeight": "bold", "color": "#00b050", "font": "Carlito, Liberation Sans, sans-serif"},
 "encoding": {"x": {"datum": 11.01}, "y": {"datum": 1133}}},
{"data": {"values": [{}]}, "mark": {"type": "text", "text": "4 observations, μ = 17 g/mol )", "align": "left", "baseline": "middle", "fontSize": 21, "fontWeight": "bold", "fontStyle": "italic", "color": "#00b050", "font": "Carlito, Liberation Sans, sans-serif"},
 "encoding": {"x": {"datum": 11.09}, "y": {"datum": 1133}}}
]
},
{
"width": 304, "height": 242,
"resolve": {"scale": {"x": "independent", "y": "independent"}},
"layer": [
{"layer": [
{"data": {"name": "bB"}, "mark": {"type": "line", "color": "#0000ff", "strokeWidth": 2},
 "encoding": {"x": {"field": "l", "type": "quantitative", "scale": {"domain": [0.25, 10], "nice": false, "zero": false}, "axis": {"values": [2, 4, 6, 8, 10], "title": "Wavelength (μm)", "titlePadding": 6}},
  "y": {"field": "f", "type": "quantitative", "scale": {"domain": [-97, 1003], "nice": false, "zero": false}, "axis": {"values": [0, 100, 200, 300, 400, 500, 600, 700, 800, 900], "title": "Flux ratio (ppm)", "titlePadding": 10}}}},
{"data": {"name": "bR"}, "mark": {"type": "line", "color": "#ff0000", "strokeWidth": 2},
 "encoding": {"x": {"field": "l", "type": "quantitative"}, "y": {"field": "f", "type": "quantitative"}}},
{"data": {"name": "bO"}, "mark": {"type": "line", "color": "#ffa500", "strokeWidth": 2},
 "encoding": {"x": {"field": "l", "type": "quantitative"}, "y": {"field": "f", "type": "quantitative"}}},
{"data": {"name": "spB"}, "mark": {"type": "rule", "color": "black", "strokeWidth": 1.6},
 "encoding": {"x": {"field": "l", "type": "quantitative"}, "y": {"field": "lo", "type": "quantitative"}, "y2": {"field": "hi"}}},
{"data": {"name": "spB"}, "mark": {"type": "circle", "color": "black", "size": 20, "opacity": 1},
 "encoding": {"x": {"field": "l", "type": "quantitative"}, "y": {"field": "f", "type": "quantitative"}}},
{"data": {"values": [{}]}, "mark": {"type": "rule", "color": "black", "strokeWidth": 1.2},
 "encoding": {"x": {"datum": 1.75}, "y": {"datum": 543}, "x2": {"datum": 1.05}, "y2": {"datum": 256}}},
{"data": {"values": [{}]}, "mark": {"type": "point", "shape": "triangle", "filled": true, "color": "black", "size": 30, "angle": 199, "opacity": 1},
 "encoding": {"x": {"datum": 1.05}, "y": {"datum": 256}}},
{"data": {"values": [{}]}, "mark": {"type": "rect", "fill": "white", "stroke": "#ffc000", "strokeWidth": 1.5},
 "encoding": {"x": {"datum": 0.77}, "x2": {"datum": 2.74}, "y": {"datum": 543}, "y2": {"datum": 722}}},
{"data": {"values": [{}]}, "mark": {"type": "text", "text": ["Albedo", "(Ag=0.5)"], "align": "center", "baseline": "middle", "lineHeight": 16, "fontSize": 14, "font": "Carlito, Liberation Sans, sans-serif"},
 "encoding": {"x": {"datum": 1.76}, "y": {"datum": 669}}},
{"data": {"values": [{}]}, "mark": {"type": "text", "text": "Eclipse", "align": "right", "baseline": "middle", "fontSize": 17, "fontWeight": "bold", "font": "Carlito, Liberation Sans, sans-serif"},
 "encoding": {"x": {"datum": 9.66}, "y": {"datum": 928}}},
{"data": {"values": [{}]}, "mark": {"type": "text", "text": "Low energy redist.", "align": "center", "baseline": "middle", "fontSize": 10.5, "angle": 351, "color": "#ff0000", "font": "Carlito, Liberation Sans, sans-serif"},
 "encoding": {"x": {"datum": 8.68}, "y": {"datum": 826}}},
{"data": {"values": [{}]}, "mark": {"type": "text", "text": "High energy redist.", "align": "center", "baseline": "middle", "fontSize": 10.5, "angle": 343, "color": "#0000ff", "font": "Carlito, Liberation Sans, sans-serif"},
 "encoding": {"x": {"datum": 8.6}, "y": {"datum": 553}}}
]},
{"layer": [
{"data": {"values": [{}]}, "mark": {"type": "rect", "fill": "white", "stroke": "#888888", "strokeWidth": 1.2},
 "encoding": {"x": {"datum": 0.35, "type": "quantitative", "scale": {"domain": [0.35, 1.2], "range": [210.1, 296.5], "nice": false, "zero": false}, "axis": {"orient": "bottom", "offset": -17.2, "values": [0.5, 1.0], "format": ".1f", "title": null}},
  "x2": {"datum": 1.2},
  "y": {"datum": -20, "type": "quantitative", "scale": {"domain": [-20, 170], "range": [224.8, 139.8], "nice": false, "zero": false}, "axis": {"orient": "left", "offset": -210.1, "values": [0, 50, 100, 150], "title": null}},
  "y2": {"datum": 170}}},
{"data": {"name": "bB"}, "transform": [{"filter": "datum.l >= 0.35 && datum.l <= 1.2"}], "mark": {"type": "line", "color": "#0000ff", "strokeWidth": 1.5},
 "encoding": {"x": {"field": "l", "type": "quantitative"}, "y": {"field": "f", "type": "quantitative"}}},
{"data": {"name": "bR"}, "transform": [{"filter": "datum.l >= 0.35 && datum.l <= 1.2"}], "mark": {"type": "line", "color": "#ff0000", "strokeWidth": 1.5},
 "encoding": {"x": {"field": "l", "type": "quantitative"}, "y": {"field": "f", "type": "quantitative"}}},
{"data": {"name": "bO"}, "transform": [{"filter": "datum.l >= 0.35 && datum.l <= 1.2"}], "mark": {"type": "line", "color": "#ffa500", "strokeWidth": 1.5},
 "encoding": {"x": {"field": "l", "type": "quantitative"}, "y": {"field": "f", "type": "quantitative"}}},
{"data": {"name": "spB"}, "transform": [{"filter": "datum.l >= 0.35 && datum.l <= 1.2"}], "mark": {"type": "rule", "color": "black", "strokeWidth": 1.3},
 "encoding": {"x": {"field": "l", "type": "quantitative"}, "y": {"field": "lo", "type": "quantitative"}, "y2": {"field": "hi"}}},
{"data": {"name": "spB"}, "transform": [{"filter": "datum.l >= 0.35 && datum.l <= 1.2"}], "mark": {"type": "circle", "color": "black", "size": 14, "opacity": 1},
 "encoding": {"x": {"field": "l", "type": "quantitative"}, "y": {"field": "f", "type": "quantitative"}}}
]}
]
},
{
"width": 62, "height": 242,
"layer": [
{"data": {"name": "ptBrs"}, "mark": {"type": "line", "color": "#ff0000", "strokeWidth": 1.8, "clip": true},
 "encoding": {"x": {"field": "T", "type": "quantitative", "scale": {"domain": [84, 3980], "nice": false, "zero": false}, "axis": {"values": [1000, 3000], "format": "d", "title": "T (K)", "titlePadding": 5}},
  "y": {"field": "p", "type": "quantitative", "scale": {"type": "log", "domain": [1, 1000000], "reverse": true, "nice": false}, "axis": {"values": [1, 10, 100, 1000, 10000, 100000, 1000000], "labelExpr": "'10' + ['⁰','¹','²','³','⁴','⁵','⁶'][round(log(datum.value)/LN10)]", "title": "Pressure (Pa)", "titlePadding": 5}},
  "order": {"field": "p", "type": "quantitative"}}},
{"data": {"name": "ptBrd"}, "mark": {"type": "line", "color": "#ff0000", "strokeWidth": 1.8, "strokeDash": [6, 3], "clip": true},
 "encoding": {"x": {"field": "T", "type": "quantitative"}, "y": {"field": "p", "type": "quantitative"}, "order": {"field": "p", "type": "quantitative"}}},
{"data": {"name": "ptBbs"}, "mark": {"type": "line", "color": "#0000ff", "strokeWidth": 1.8, "clip": true},
 "encoding": {"x": {"field": "T", "type": "quantitative"}, "y": {"field": "p", "type": "quantitative"}, "order": {"field": "p", "type": "quantitative"}}},
{"data": {"name": "ptBbd"}, "mark": {"type": "line", "color": "#0000ff", "strokeWidth": 1.8, "strokeDash": [6, 3], "clip": true},
 "encoding": {"x": {"field": "T", "type": "quantitative"}, "y": {"field": "p", "type": "quantitative"}, "order": {"field": "p", "type": "quantitative"}}}
]
}
],
"config": {
"font": "DejaVu Sans, sans-serif",
"view": {"stroke": "#666666", "strokeWidth": 1.2},
"axis": {"grid": false, "domain": false, "tickColor": "#333333", "tickSize": 4, "labelFont": "DejaVu Sans, sans-serif", "titleFont": "DejaVu Sans, sans-serif", "labelFontSize": 10, "labelColor": "#222222", "titleFontSize": 10.5, "titleFontWeight": "normal", "titleColor": "#222222", "labelPadding": 2}
}
}
